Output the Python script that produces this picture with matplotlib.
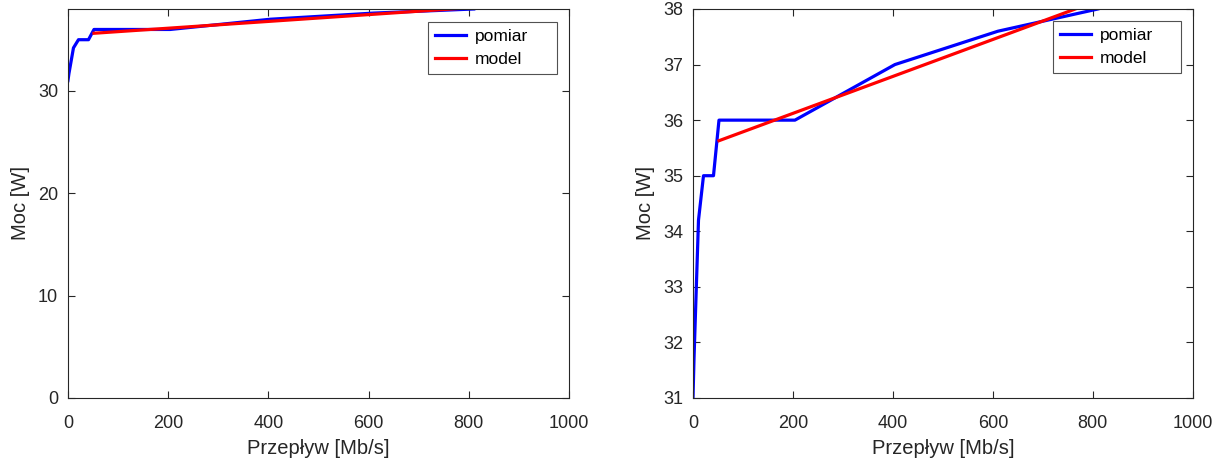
import numpy as np
import matplotlib.pyplot as plt

plt.rcParams['font.family'] = ['Liberation Sans', 'DejaVu Sans']

# pomiar (measurement)
przeplyw = [0, 2, 11, 21, 41, 52, 204, 404, 610, 810]
moc = [31.0, 31.7, 34.2, 35.0, 35.0, 36.0, 36.0, 37.0, 37.6, 38.0]

# model (linear fit)
model_x = [52, 810]
model_y = [35.63, 38.15]

fig = plt.figure(figsize=(12.22, 4.59), dpi=100)
axes = [fig.add_axes([0.0556, 0.1329, 0.410, 0.8475]),
        fig.add_axes([0.5671, 0.1329, 0.409, 0.8475])]
ylims = [(0, 38), (31, 38)]
yticks = [[0, 10, 20, 30], [31, 32, 33, 34, 35, 36, 37, 38]]
leg_boxes = [(0.7186, 0.7, 0.2575, 0.2665), (0.72, 0.7, 0.256, 0.269)]

for ax, yl, yt, lb in zip(axes, ylims, yticks, leg_boxes):
    ax.plot(przeplyw, moc, color='#0000ff', lw=2.3, label='pomiar')
    ax.plot(model_x, model_y, color='#ff0000', lw=2.3, label='model')
    ax.set_xlim(0, 1000)
    ax.set_ylim(*yl)
    ax.set_xticks([0, 200, 400, 600, 800, 1000])
    ax.set_yticks(yt)
    ax.tick_params(direction='in', top=True, right=True, length=5,
                   labelsize=13, colors='#262626', width=0.8)
    ax.tick_params(axis='x', pad=12)
    ax.tick_params(axis='y', pad=7)
    for s in ax.spines.values():
        s.set_color('#262626')
        s.set_linewidth(0.8)
    ax.set_xlabel('Przepływ [Mb/s]', fontsize=14.5, color='#262626', labelpad=5)
    ax.set_ylabel('Moc [W]', fontsize=14.5, color='#262626', labelpad=6)
    leg = ax.legend(loc='upper left', bbox_to_anchor=lb, mode='expand',
                    fontsize=12.5, frameon=True, fancybox=False,
                    edgecolor='#262626', handlelength=1.8, handletextpad=0.5,
                    borderpad=0.4, labelspacing=0.45, borderaxespad=0)
    leg.get_frame().set_linewidth(0.8)

fig.savefig('out.png', dpi=100)
